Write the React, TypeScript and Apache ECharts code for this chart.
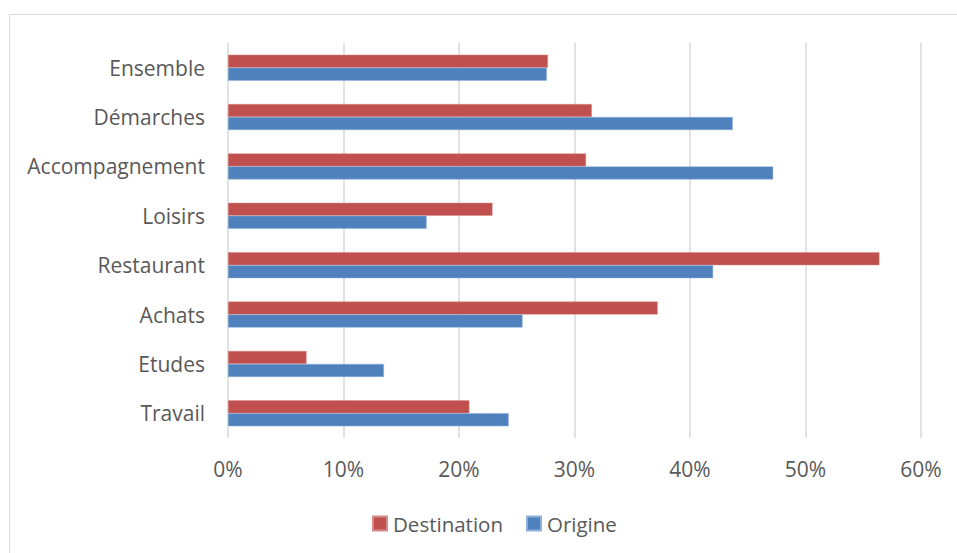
import React, { useEffect, useRef } from "react";
import * as echarts from "echarts";

const categories = ["Travail", "Etudes", "Achats", "Restaurant", "Loisirs", "Accompagnement", "Démarches", "Ensemble"];
const destination = [20.9, 6.8, 37.2, 56.4, 22.9, 31.0, 31.5, 27.7];
const origine = [24.3, 13.5, 25.5, 42.0, 17.2, 47.2, 43.7, 27.6];
const xTicks = [0, 10, 20, 30, 40, 50, 60];

const FONT = "'Open Sans', 'Noto Sans', sans-serif";
const TEXT = "#595959";

export default function App() {
  const ref = useRef<HTMLDivElement>(null);
  useEffect(() => {
    if (!ref.current) return;
    const chart = echarts.init(ref.current, undefined, { renderer: "svg" });
    chart.setOption({
      animation: false,
      backgroundColor: "#ffffff",
      textStyle: { fontFamily: FONT, color: TEXT },
      graphic: [
        {
          type: "rect",
          shape: { x: 9.5, y: 14.5, width: 980, height: 580 },
          style: { fill: "none", stroke: "#d9d9d9", lineWidth: 1 },
          silent: true,
        },
      ],
      grid: { left: 228, right: 36, top: 43, bottom: 115, containLabel: false },
      legend: {
        data: ["Destination", "Origine"],
        left: 372,
        top: 513,
        padding: 0,
        itemWidth: 14,
        itemHeight: 14,
        itemGap: 23,
        icon: "rect",
        textStyle: { fontFamily: FONT, color: TEXT, fontSize: 20.5, padding: [0, 0, 0, 1] },
      },
      xAxis: {
        type: "value",
        min: xTicks[0],
        max: xTicks[xTicks.length - 1],
        interval: 10,
        axisLine: { show: false },
        axisTick: { show: false },
        axisLabel: {
          formatter: "{value}%",
          fontFamily: FONT,
          fontSize: 21,
          color: TEXT,
          margin: 20,
        },
        splitLine: { show: true, lineStyle: { color: "#d9d9d9", width: 1.5 } },
      },
      yAxis: {
        type: "category",
        data: categories,
        axisLine: { show: false },
        axisTick: { show: false },
        axisLabel: { fontFamily: FONT, fontSize: 21, color: TEXT, margin: 23 },
      },
      series: [
        {
          name: "Destination",
          type: "bar",
          data: destination,
          barWidth: 13,
          barGap: "0%",
          itemStyle: { color: "#C0504D", borderColor: "#d48b89", borderWidth: 0.5 },
        },
        {
          name: "Origine",
          type: "bar",
          data: origine,
          barWidth: 13,
          barGap: "0%",
          itemStyle: { color: "#4F81BD", borderColor: "#8fb0d8", borderWidth: 0.5 },
        },
      ],
    });
    return () => chart.dispose();
  }, []);
  return (
    <div
      ref={ref}
      style={{ position: "fixed", left: 0, top: 0, width: 957, height: 553 }}
    />
  );
}
